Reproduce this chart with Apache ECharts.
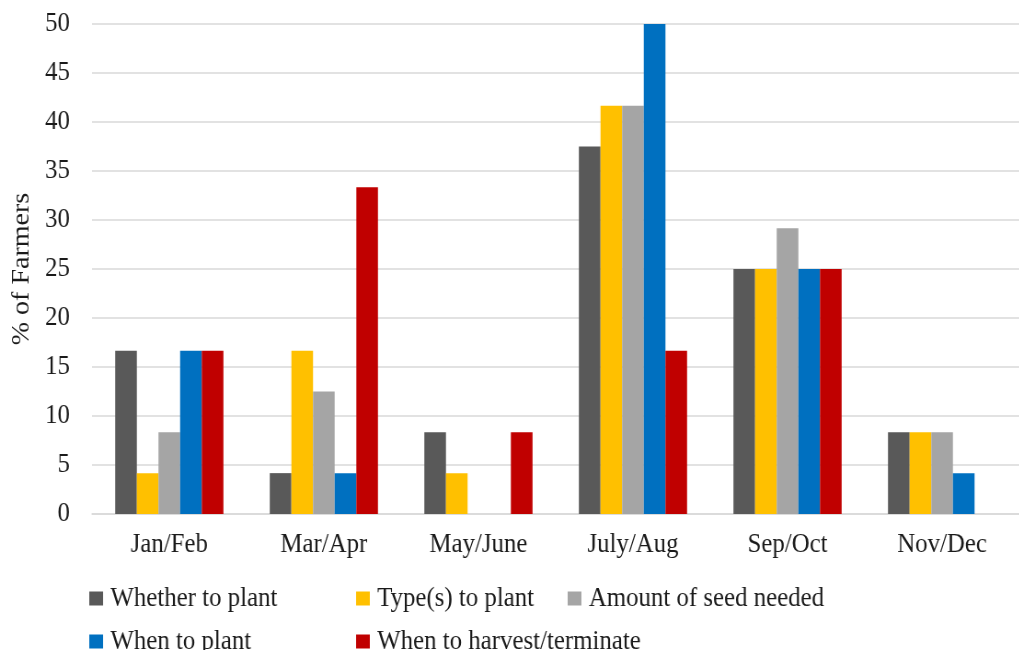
<!DOCTYPE html>
<html>
<head>
<meta charset="utf-8">
<script src="https://cdn.jsdelivr.net/npm/echarts@6/dist/echarts.min.js"></script>
<style>
  html, body { margin: 0; padding: 0; background: #fff; overflow: hidden; }
  /* The chart is drawn slightly wider and compressed horizontally, giving the narrow serif look */
  #chart { width: 1108px; height: 650px; transform: scaleX(0.92); transform-origin: 0 0; }
</style>
</head>
<body>
<div id="chart"></div>
<script>
// Period categories along the x axis
const periods = ['Jan/Feb', 'Mar/Apr', 'May/June', 'July/Aug', 'Sep/Oct', 'Nov/Dec'];

// Share of farmers (%) deciding each item in each period
const whetherToPlant = [16.67, 4.17, 8.33, 37.5, 25, 8.33];
const typesToPlant = [4.17, 16.67, 4.17, 41.67, 25, 8.33];
const amountOfSeed = [8.33, 12.5, 0, 41.67, 29.17, 8.33];
const whenToPlant = [16.67, 4.17, 0, 50, 25, 4.17];
const whenToHarvest = [16.67, 33.33, 8.33, 16.67, 25, 0];

const seriesNames = ['Whether to plant', 'Type(s) to plant', 'Amount of seed needed', 'When to plant', 'When to harvest/terminate'];
const seriesData = [whetherToPlant, typesToPlant, amountOfSeed, whenToPlant, whenToHarvest];
const colors = ['#595959', '#FFC000', '#A5A5A5', '#0070C0', '#C00000'];

const yTicks = { min: 0, max: 50, interval: 5 };

const font = '"Liberation Serif", "Times New Roman", serif';
const textColor = '#1a1a1a';
const fontSize = 27;

// Legend entries placed in two aligned rows
const legendPos = [
  { left: 97, top: 585 },
  { left: 387, top: 585 },
  { left: 617, top: 585 },
  { left: 97, top: 628 },
  { left: 387, top: 628 }
];

const chart = echarts.init(document.getElementById('chart'), null, { renderer: 'canvas' });

chart.setOption({
  animation: false,
  color: colors,
  textStyle: { fontFamily: font, color: textColor },
  grid: { left: 100, top: 24, width: 1024, height: 490, containLabel: false },
  legend: seriesNames.map((name, i) => ({
    data: [name],
    left: legendPos[i].left,
    top: legendPos[i].top,
    padding: 0,
    itemWidth: 15,
    itemHeight: 14,
    itemGap: 0,
    icon: 'rect',
    selectedMode: false,
    textStyle: { fontFamily: font, fontSize: fontSize, color: textColor, padding: [0, 0, 0, 3] }
  })),
  xAxis: {
    type: 'category',
    data: periods,
    axisLine: { show: true, lineStyle: { color: '#D9D9D9', width: 1.5 } },
    axisTick: { show: false },
    axisLabel: { fontFamily: font, fontSize: fontSize, color: textColor, margin: 17 }
  },
  yAxis: {
    type: 'value',
    min: yTicks.min,
    max: yTicks.max,
    interval: yTicks.interval,
    name: '% of Farmers',
    nameLocation: 'middle',
    nameRotate: 90,
    nameGap: 60,
    nameTextStyle: { fontFamily: font, fontSize: 28, color: textColor },
    axisLine: { show: false },
    axisTick: { show: false },
    splitLine: { show: true, lineStyle: { color: '#D9D9D9', width: 1.5 } },
    axisLabel: { fontFamily: font, fontSize: fontSize, color: textColor, margin: 24 }
  },
  series: seriesNames.map((name, i) => ({
    name: name,
    type: 'bar',
    data: seriesData[i],
    barGap: '0%',
    barCategoryGap: '30%',
    itemStyle: { color: colors[i] }
  }))
});
</script>
</body>
</html>
